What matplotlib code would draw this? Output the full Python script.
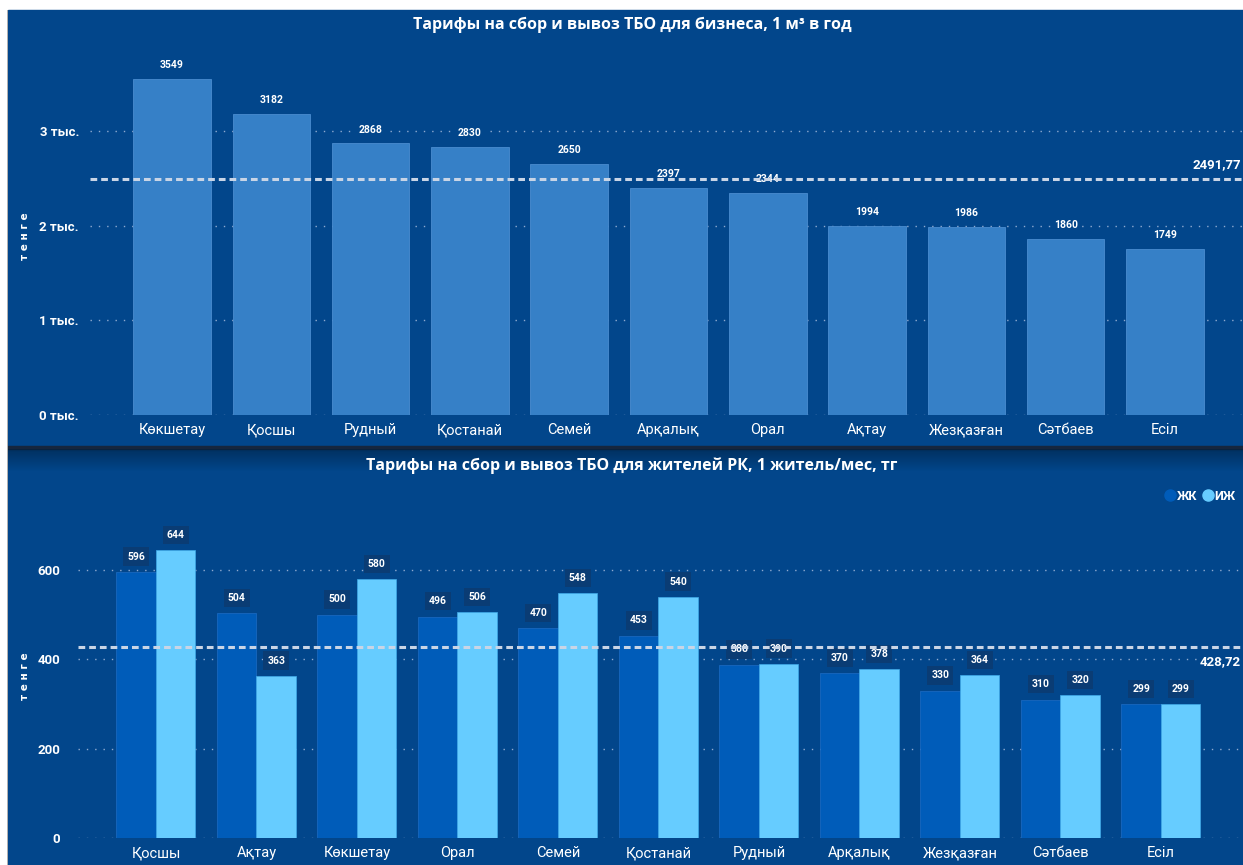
import matplotlib.pyplot as plt
from matplotlib.patches import Rectangle
from matplotlib.lines import Line2D
from matplotlib import font_manager

W, H = 1243, 865

# --- data -----------------------------------------------------------------
biz_cities = ["Көкшетау", "Қосшы", "Рудный", "Қостанай", "Семей", "Арқалық",
              "Орал", "Ақтау", "Жезқазған", "Сәтбаев", "Есіл"]
biz_values = [3549, 3182, 2868, 2830, 2650, 2397, 2344, 1994, 1986, 1860, 1749]
biz_avg = 2491.77

res_cities = ["Қосшы", "Ақтау", "Көкшетау", "Орал", "Семей", "Қостанай",
              "Рудный", "Арқалық", "Жезқазған", "Сәтбаев", "Есіл"]
res_zhk = [596, 504, 500, 496, 470, 453, 388, 370, 330, 310, 299]
res_izh = [644, 363, 580, 506, 548, 540, 390, 378, 364, 320, 299]
res_avg = 428.72

title_top = "Тарифы на сбор и вывоз ТБО для бизнеса, 1 м³ в год"
title_bot = "Тарифы на сбор и вывоз ТБО для жителей РК, 1 житель/мес, тг"

# --- style ----------------------------------------------------------------
PANEL = "#02468B"
BAR_TOP = "#3680C7"
C_ZHK = "#005CB9"
C_IZH = "#66CCFF"
GRID = "#8FAAD0"
AVG = "#C9D5E6"

names = {f.name for f in font_manager.fontManager.ttflist}
narrow = "Liberation Sans Narrow" if "Liberation Sans Narrow" in names else "Roboto"
plt.rcParams["font.family"] = [narrow, "DejaVu Sans"]


def fbox(x0, y0, x1, y1):
    # pixel box (top-left origin) -> figure coords
    return [x0 / W, 1 - y1 / H, (x1 - x0) / W, (y1 - y0) / H]


fig = plt.figure(figsize=(W / 100, H / 100), dpi=100, facecolor="white")

bg = fig.add_axes([0, 0, 1, 1], zorder=-5)
bg.set_xlim(0, W)
bg.set_ylim(H, 0)
bg.axis("off")
bg.add_patch(Rectangle((8, 10), W - 8, 437, color=PANEL))
bg.add_patch(Rectangle((8, 448), W - 8, H - 448, color=PANEL))
bg.add_patch(Rectangle((8, 446), W - 8, 3, color="#16263E"))
for i in range(22):
    bg.add_patch(Rectangle((8, 449 + i), W - 8, 1, color="#00203F",
                           alpha=0.55 * (1 - i / 22), lw=0))
bg.add_patch(Rectangle((7, 10), 1.2, H - 10, color="#B0B0B0", lw=0))


def style_axes(ax):
    ax.set_facecolor("none")
    for s in ax.spines.values():
        s.set_visible(False)
    ax.tick_params(axis="both", length=0, colors="white")
    ax.grid(axis="y", linestyle=(0, (1, 5)), linewidth=1.0, color=GRID)
    ax.set_axisbelow(True)


# --- top chart ------------------------------------------------------------
ax1 = fig.add_axes(fbox(90, 60, W, 415))
style_axes(ax1)
x1 = list(range(len(biz_cities)))
ax1.bar(x1, biz_values, width=0.78, color=BAR_TOP, edgecolor="#4A8CD0",
        linewidth=0.6, zorder=2)
ax1.set_xlim(-0.826, -0.826 + (W - 90) / 99.3)
ax1.set_ylim(0, 355 / 94.7 * 1000)
ax1.set_yticks([0, 1000, 2000, 3000])
ax1.set_yticklabels([f"{t // 1000} тыс." for t in [0, 1000, 2000, 3000]],
                    fontsize=9.5, fontweight="bold")
ax1.set_xticks(x1)
ax1.set_xticklabels(biz_cities, fontsize=10.5)
ax1.tick_params(axis="x", pad=6)
ax1.tick_params(axis="y", pad=8)
for xi, v in zip(x1, biz_values):
    ax1.annotate(str(v), (xi, v), xytext=(0, 10), textcoords="offset points",
                 ha="center", va="center", color="white", fontsize=7.5,
                 fontweight="bold", zorder=4,
                 bbox=dict(boxstyle="square,pad=0.25", fc=PANEL, ec="none"))
ax1.axhline(biz_avg, color=AVG, linewidth=2.2, dashes=(2.2, 1.3), zorder=5)
ax1.text(0.998, biz_avg + 150, "2491,77", transform=ax1.get_yaxis_transform(),
         ha="right", va="center", color="white", fontsize=9.5, fontweight="bold")
fig.text(632 / W, 1 - 25 / H, title_top, ha="center", va="center",
         color="white", fontsize=11.5, fontweight="bold", family="Open Sans")
fig.text(25 / W, 1 - 236 / H, "т е н г е", rotation=90, ha="center",
         va="center", color="white", fontsize=7.5, fontweight="bold",
         family="DejaVu Sans")

# --- bottom chart ---------------------------------------------------------
ax2 = fig.add_axes(fbox(78, 520, W, 838))
style_axes(ax2)
x2 = list(range(len(res_cities)))
bw = 0.393
ax2.bar([x - bw / 2 for x in x2], res_zhk, width=bw, color=C_ZHK,
        edgecolor="#1D6CC4", linewidth=0.5, zorder=2, label="ЖК")
ax2.bar([x + bw / 2 for x in x2], res_izh, width=bw, color=C_IZH,
        edgecolor="#3FA9E8", linewidth=0.5, zorder=2, label="ИЖ")
ax2.set_xlim(-0.776, -0.776 + (W - 78) / 100.5)
ax2.set_ylim(0, 318 / 89.3 * 200)
ax2.set_yticks([0, 200, 400, 600])
ax2.set_yticklabels(["0", "200", "400", "600"], fontsize=9.5, fontweight="bold")
ax2.set_xticks(x2)
ax2.set_xticklabels(res_cities, fontsize=10.5)
ax2.tick_params(axis="x", pad=6)
ax2.tick_params(axis="y", pad=13)
for xi, a, b in zip(x2, res_zhk, res_izh):
    for xx, v in ((xi - bw / 2, a), (xi + bw / 2, b)):
        ax2.annotate(str(v), (xx, v), xytext=(0, 11), textcoords="offset points",
                     ha="center", va="center", color="white", fontsize=7.5,
                     fontweight="bold", zorder=4,
                     bbox=dict(boxstyle="square,pad=0.4", fc="#0A3C74",
                               ec="none"))
ax2.axhline(res_avg, color=AVG, linewidth=2.2, dashes=(2.2, 1.3), zorder=5)
ax2.text(0.998, res_avg - 33, "428,72", transform=ax2.get_yaxis_transform(),
         ha="right", va="center", color="white", fontsize=9.5, fontweight="bold")
fig.text(632 / W, 1 - 466 / H, title_bot, ha="center", va="center",
         color="white", fontsize=11.5, fontweight="bold", family="Open Sans")
fig.text(25 / W, 1 - 676 / H, "т е н г е", rotation=90, ha="center",
         va="center", color="white", fontsize=7.5, fontweight="bold",
         family="DejaVu Sans")

handles = [Line2D([], [], marker="o", linestyle="none", markersize=8,
                  color=c, label=l) for c, l in ((C_ZHK, "ЖК"), (C_IZH, "ИЖ"))]
leg = fig.legend(handles=handles, loc="center right",
                 bbox_to_anchor=(1.0, 1 - 496 / H), ncol=2, frameon=False,
                 handletextpad=0.0, columnspacing=0.4, handlelength=1.0,
                 borderaxespad=0.2, prop=dict(family=narrow, size=9,
                                              weight="bold"))
for t in leg.get_texts():
    t.set_color("white")

fig.savefig("out.png", dpi=100, facecolor="white")
